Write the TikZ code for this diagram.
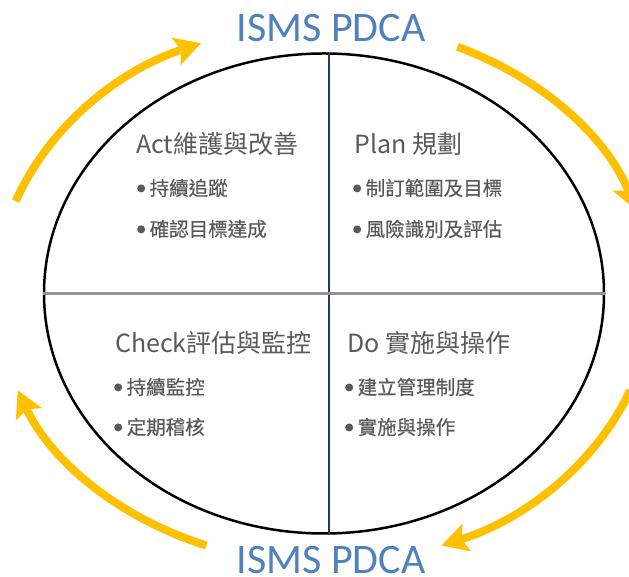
\documentclass[tikz,border=0pt]{standalone}
\usepackage{fontspec}
\setmainfont{Noto Sans CJK TC}
\newfontfamily\titlefont{Carlito}
\newfontfamily\itemfont[FakeBold=0.5]{Noto Sans CJK TC}
\usepackage{tikz}
\usetikzlibrary{arrows.meta,shapes.geometric}
\usepackage{xcolor}

\definecolor{pdcagold}{RGB}{255,192,0}
\definecolor{pdcablue}{RGB}{79,129,189}
\definecolor{textgray}{RGB}{89,89,89}
\definecolor{axisnavy}{RGB}{31,56,100}

\newcommand\pdcadot{\tikz[baseline=-7pt]\fill[textgray] (0,0) circle (4pt);\hspace{4.5pt}}

\tikzset{
  cycle arrow/.style={pdcagold, line width=8pt, -{Stealth[length=26pt, width=28pt, inset=5pt]}},
  quadhead/.style={anchor=west, inner sep=0pt, text=textgray, font=\fontsize{25}{29}\selectfont},
  quaditem/.style={anchor=west, inner sep=0pt, text=textgray, font=\itemfont\fontsize{19.5}{23}\selectfont},
  pdca title/.style={anchor=base, inner sep=0pt, text=pdcablue, font=\titlefont\fontsize{42}{46}\selectfont},
}

\begin{document}
\begin{tikzpicture}[x=1pt, y=1pt]

                \useasboundingbox (0,0) rectangle (629,577);
                \coordinate (ctr) at (324,283.5);

                % Ovale central
                \node[draw, line width=2.5pt, ellipse, minimum width=560pt, minimum height=480pt, inner sep=0pt] (oval) at (ctr) {};

                % Axes des quadrants
                \draw[axisnavy, line width=2pt] ([xshift=5pt]oval.north) -- ([xshift=5pt]oval.south);
                \draw[gray!85, line width=2.5pt] (oval.west) -- (oval.east);

                % Flèches du cycle
                \draw[cycle arrow] (ctr) ++(160:328 and 270) arc[start angle=160, end angle=112, x radius=328, y radius=270];
                \draw[cycle arrow] (ctr) ++(66:328 and 270) arc[start angle=66, end angle=18, x radius=328, y radius=270];
                \draw[cycle arrow] (ctr) ++(-21:328 and 270) arc[start angle=-21, end angle=-69, x radius=328, y radius=270];
                \draw[cycle arrow] (ctr) ++(-111:328 and 270) arc[start angle=-111, end angle=-159, x radius=328, y radius=270];

                % Titres
                \node[pdca title] (toptitle) at (331,535) {ISMS PDCA};
                \node[pdca title] (bottitle) at (331,3) {ISMS PDCA};

                % Act
                \node[quadhead] (act) at (136,433) {Act維護與改善};
                \node[quaditem] (act1) at (137,389) {\pdcadot 持續追蹤};
                \node[quaditem] (act2) at (137,348) {\pdcadot 確認目標達成};

                % Plan
                \node[quadhead] (plan) at (354,433) {Plan 規劃};
                \node[quaditem] (plan1) at (353,389) {\pdcadot 制訂範圍及目標};
                \node[quaditem] (plan2) at (353,348) {\pdcadot 風險識別及評估};

                % Check
                \node[quadhead] (check) at (115,234) {Check評估與監控};
                \node[quaditem] (check1) at (114,190) {\pdcadot 持續監控};
                \node[quaditem] (check2) at (114,150) {\pdcadot 定期稽核};

                % Do
                \node[quadhead] (do) at (347,234) {Do 實施與操作};
                \node[quaditem] (do1) at (345,190) {\pdcadot 建立管理制度};
                \node[quaditem] (do2) at (345,150) {\pdcadot 實施與操作};

            \end{tikzpicture}
\end{document}
